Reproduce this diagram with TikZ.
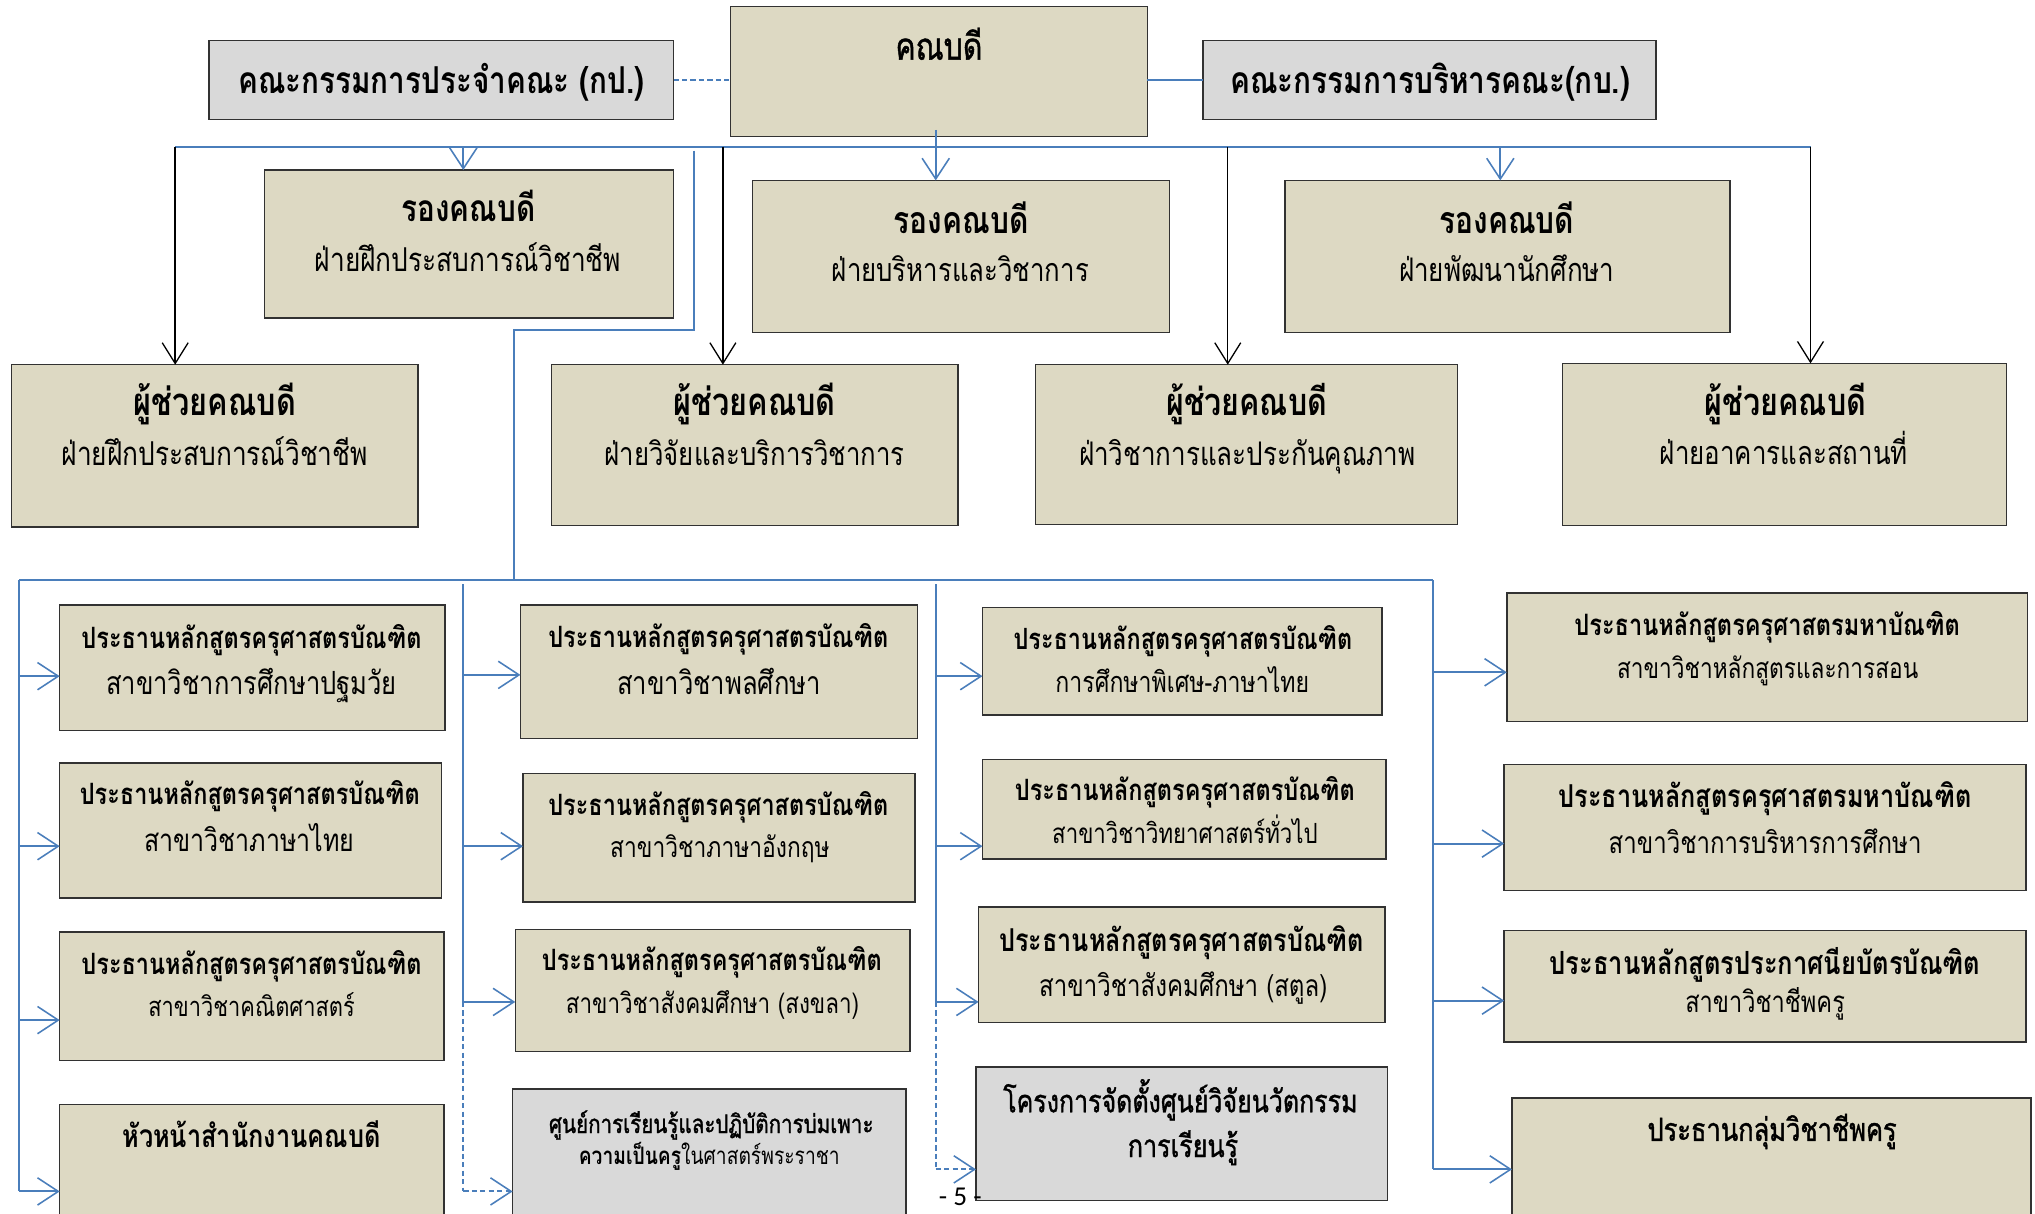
\documentclass[tikz,border=0pt]{standalone}
\usepackage{fontspec}
\usepackage{graphicx}
\usetikzlibrary{arrows.meta}
\newfontfamily\thaif[Script=Thai,FakeStretch=0.8]{Loma}
\newfontfamily\thaim[Script=Thai,FakeStretch=0.8,FakeBold=1.2]{Loma}
\newfontfamily\pagef{Carlito}
\definecolor{tanfill}{RGB}{221,217,195}
\definecolor{grayfill}{RGB}{217,217,217}
\definecolor{boxline}{RGB}{50,50,50}
\definecolor{blueline}{RGB}{74,126,187}
\newcommand\bx[6]{\node[#6,minimum width={#4-#2},minimum height={#5-#3}] (#1) at ({(#2+#4)/2},{(#3+#5)/2}) {};}
\newcommand\tlab[5]{\node[anchor=base,inner sep=0pt] (#1) at (#2,#3) {\resizebox{#4pt}{!}{\thaif #5}};}
\begin{document}
\begin{tikzpicture}[x=1pt,y=-1pt,
  box/.style={rectangle,draw=boxline,line width=1.1pt,fill=tanfill,inner sep=0pt,outer sep=0pt},
  gbox/.style={box,fill=grayfill},
  bl/.style={draw=blueline,line width=1.5pt},
  bd/.style={bl,dash pattern=on 4pt off 2.5pt},
  bla/.style={bl,-{Straight Barb[length=16pt,width=21pt,line width=1.2pt]}},
  bda/.style={bd,-{Straight Barb[length=16pt,width=21pt,line width=1.2pt]}},
  ka/.style={draw=black,line width=1.1pt,-{Straight Barb[length=16pt,width=20pt,line width=1pt]}}]
\useasboundingbox (0,0) rectangle (1568,935);
\clip (0,0) rectangle (1568,935);
\fill[white] (0,0) rectangle (1568,935);
% ---------- boxes
\bx{dean}{563}{5}{884}{105}{box}
\bx{kp}{161}{31}{519}{92}{gbox}
\bx{kb}{927}{31}{1276}{92}{gbox}
\bx{v1}{204}{131}{519}{245}{box}
\bx{v2}{580}{139}{901}{256}{box}
\bx{v3}{990}{139}{1333}{256}{box}
\bx{a1}{9}{281}{322}{406}{box}
\bx{a2}{425}{281}{738}{405}{box}
\bx{a3}{798}{281}{1123}{404}{box}
\bx{a4}{1204}{280}{1546}{405}{box}
\bx{c11}{46}{466}{343}{563}{box}
\bx{c12}{46}{588}{340}{692}{box}
\bx{c13}{46}{718}{342}{817}{box}
\bx{c14}{46}{851}{342}{950}{box}
\bx{c21}{401}{466}{707}{569}{box}
\bx{c22}{403}{596}{705}{695}{box}
\bx{c23}{397}{716}{701}{810}{box}
\bx{c24}{395}{839}{698}{950}{gbox}
\bx{c31}{757}{468}{1065}{551}{box}
\bx{c32}{757}{585}{1068}{662}{box}
\bx{c33}{754}{699}{1067}{788}{box}
\bx{c34}{752}{822}{1069}{925}{gbox}
\bx{c41}{1161}{457}{1562}{556}{box}
\bx{c42}{1159}{589}{1561}{686}{box}
\bx{c43}{1159}{717}{1561}{803}{box}
\bx{c44}{1165}{846}{1565}{950}{box}
% ---------- top connectors
\draw[bd] (kp.east) -- (kp.east -| dean.west);
\draw[bl] (dean.east |- kb.west) -- (kb.west);
\coordinate (busL) at (135,113);
\coordinate (busR) at (1395,113);
\draw[bl] (busL) -- (busR);
\coordinate (dd) at (721,100);
\draw[bla] (dd) -- (dd |- v2.north);
\coordinate (t1) at (357,113);
\draw[bla] (t1) -- (t1 |- v1.north);
\coordinate (t3) at (1156,113);
\draw[bla] (t3) -- (t3 |- v3.north);
\draw[ka] (busL) -- (busL |- a1.north);
\coordinate (k2) at (557,113);
\draw[ka] (k2) -- (k2 |- a2.north);
\coordinate (k3) at (946,113);
\draw[ka] (k3) -- (k3 |- a3.north);
\draw[ka] (busR) -- (busR |- a4.north);
% ---------- branch to lower level
\coordinate (br0) at (535,116);
\coordinate (br1) at (535,254);
\coordinate (br2) at (396,254);
\coordinate (br3) at (396,447);
\draw[bl] (br0) -- (br1) -- (br2) -- (br3);
\coordinate (bbL) at (15,447);
\coordinate (bbR) at (1104,447);
\draw[bl] (bbL) -- (bbR);
% column 1
\coordinate (s1e) at (15,918);
\draw[bl] (bbL) -- (s1e);
\coordinate (s1a) at (15,521);
\coordinate (s1b) at (15,652);
\coordinate (s1c) at (15,786);
\draw[bla] (s1a) -- (s1a -| c11.west);
\draw[bla] (s1b) -- (s1b -| c12.west);
\draw[bla] (s1c) -- (s1c -| c13.west);
\draw[bla] (s1e) -- (s1e -| c14.west);
% column 2
\coordinate (s2t) at (357,450);
\coordinate (s2a) at (357,520);
\coordinate (s2b) at (357,652);
\coordinate (s2c) at (357,772);
\coordinate (s2e) at (357,918);
\draw[bl] (s2t) -- (s2c);
\draw[bd] (s2c) -- (s2e);
\draw[bla] (s2a) -- (s2a -| c21.west);
\draw[bla] (s2b) -- (s2b -| c22.west);
\draw[bla] (s2c) -- (s2c -| c23.west);
\draw[bda] (s2e) -- (s2e -| c24.west);
% column 3
\coordinate (s3t) at (721,450);
\coordinate (s3a) at (721,521);
\coordinate (s3b) at (721,652);
\coordinate (s3c) at (721,772);
\coordinate (s3e) at (721,901);
\draw[bl] (s3t) -- (s3c);
\draw[bd] (s3c) -- (s3e);
\draw[bla] (s3a) -- (s3a -| c31.west);
\draw[bla] (s3b) -- (s3b -| c32.west);
\draw[bla] (s3c) -- (s3c -| c33.west);
\draw[bda] (s3e) -- (s3e -| c34.west);
% column 4
\coordinate (s4a) at (1104,518);
\coordinate (s4b) at (1104,650);
\coordinate (s4c) at (1104,771);
\coordinate (s4e) at (1104,901);
\draw[bl] (bbR) -- (s4e);
\draw[bla] (s4a) -- (s4a -| c41.west);
\draw[bla] (s4b) -- (s4b -| c42.west);
\draw[bla] (s4c) -- (s4c -| c43.west);
\draw[bla] (s4e) -- (s4e -| c44.west);
% ---------- texts
\tlab{tdean}{723.5}{46}{67}{\thaim คณบดี}
\tlab{tkp}{340}{72}{313}{\bfseries คณะกรรมการประจำคณะ (กป.)}
\tlab{tkb}{1102}{72}{308}{\bfseries คณะกรรมการบริหารคณะ(กบ.)}
\tlab{tv1a}{361}{171}{103}{\bfseries รองคณบดี}
\tlab{tv1b}{360.6}{209}{236}{ฝ่ายฝึกประสบการณ์วิชาชีพ}
\tlab{tv2a}{740.5}{180}{104}{\bfseries รองคณบดี}
\tlab{tv2b}{740}{217}{198}{ฝ่ายบริหารและวิชาการ}
\tlab{tv3a}{1161}{180}{104}{\bfseries รองคณบดี}
\tlab{tv3b}{1161}{217}{166}{ฝ่ายพัฒนานักศึกษา}
\tlab{ta1a}{165.5}{320.5}{125}{\bfseries ผู้ช่วยคณบดี}
\tlab{ta1b}{165.5}{359}{236}{ฝ่ายฝึกประสบการณ์วิชาชีพ}
\tlab{ta2a}{581.5}{320.5}{125}{\bfseries ผู้ช่วยคณบดี}
\tlab{ta2b}{581.5}{359}{231}{ฝ่ายวิจัยและบริการวิชาการ}
\tlab{ta3a}{960.6}{320.5}{124}{\bfseries ผู้ช่วยคณบดี}
\tlab{ta3b}{961}{359}{259}{ฝ่าวิชาการและประกันคุณภาพ}
\tlab{ta4a}{1375.7}{320.5}{124.5}{\bfseries ผู้ช่วยคณบดี}
\tlab{ta4b}{1374.5}{358}{191}{ฝ่ายอาคารและสถานที่}
\tlab{tc11a}{193.8}{500}{262}{\bfseries ประธานหลักสูตรครุศาสตรบัณฑิต}
\tlab{tc11b}{193.8}{535}{224}{สาขาวิชาการศึกษาปฐมวัย}
\tlab{tc12a}{192.5}{619.5}{262}{\bfseries ประธานหลักสูตรครุศาสตรบัณฑิต}
\tlab{tc12b}{192}{656}{162}{สาขาวิชาภาษาไทย}
\tlab{tc13a}{193.8}{751}{262}{\bfseries ประธานหลักสูตรครุศาสตรบัณฑิต}
\tlab{tc13b}{193.8}{783}{159}{สาขาวิชาคณิตศาสตร์}
\tlab{tc14}{193.8}{884}{199}{\bfseries หัวหน้าสำนักงานคณบดี}
\tlab{tc21a}{553.5}{499}{262}{\bfseries ประธานหลักสูตรครุศาสตรบัณฑิต}
\tlab{tc21b}{554}{535}{157}{สาขาวิชาพลศึกษา}
\tlab{tc22a}{553.5}{628}{262}{\bfseries ประธานหลักสูตรครุศาสตรบัณฑิต}
\tlab{tc22b}{554.7}{661}{169}{สาขาวิชาภาษาอังกฤษ}
\tlab{tc23a}{548.5}{747.5}{262}{\bfseries ประธานหลักสูตรครุศาสตรบัณฑิต}
\tlab{tc23b}{549}{780.7}{226}{สาขาวิชาสังคมศึกษา (สงขลา)}
\tlab{tc24a}{548}{873}{250}{\thaim ศูนย์การเรียนรู้และปฏิบัติการบ่มเพาะ}
\tlab{tc24b}{546.5}{897}{201}{{\bfseries ความเป็นครู}ในศาสตร์พระราชา}
\tlab{tc31a}{911.5}{500.5}{261}{\bfseries ประธานหลักสูตรครุศาสตรบัณฑิต}
\tlab{tc31b}{911}{533.6}{195.5}{การศึกษาพิเศษ-ภาษาไทย}
\tlab{tc32a}{913}{616.7}{262}{\bfseries ประธานหลักสูตรครุศาสตรบัณฑิต}
\tlab{tc32b}{913}{649.6}{204.5}{สาขาวิชาวิทยาศาสตร์ทั่วไป}
\tlab{tc33a}{910.5}{733}{281}{\bfseries ประธานหลักสูตรครุศาสตรบัณฑิต}
\tlab{tc33b}{911.7}{768}{222}{สาขาวิชาสังคมศึกษา (สตูล)}
\tlab{tc34a}{909.5}{857}{273}{\thaim โครงการจัดตั้งศูนย์วิจัยนวัตกรรม}
\tlab{tc34b}{911.5}{891.5}{85}{\thaim การเรียนรู้}
\tlab{tc41a}{1361.6}{489.3}{297}{\bfseries ประธานหลักสูตรครุศาสตรมหาบัณฑิต}
\tlab{tc41b}{1362}{523}{232}{สาขาวิชาหลักสูตรและการสอน}
\tlab{tc42a}{1360}{622.5}{318}{\bfseries ประธานหลักสูตรครุศาสตรมหาบัณฑิต}
\tlab{tc42b}{1360}{657.8}{241}{สาขาวิชาการบริหารการศึกษา}
\tlab{tc43a}{1360}{751}{332}{\bfseries ประธานหลักสูตรประกาศนียบัตรบัณฑิต}
\tlab{tc43b}{1360}{779.8}{123}{สาขาวิชาชีพครู}
\tlab{tc44}{1365.4}{879}{192}{\thaim ประธานกลุ่มวิชาชีพครู}
\node[anchor=base,inner sep=0pt,font=\pagef\fontsize{21}{23}\selectfont] (pnum) at (740,929) {- 5 -};
\end{tikzpicture}
\end{document}
